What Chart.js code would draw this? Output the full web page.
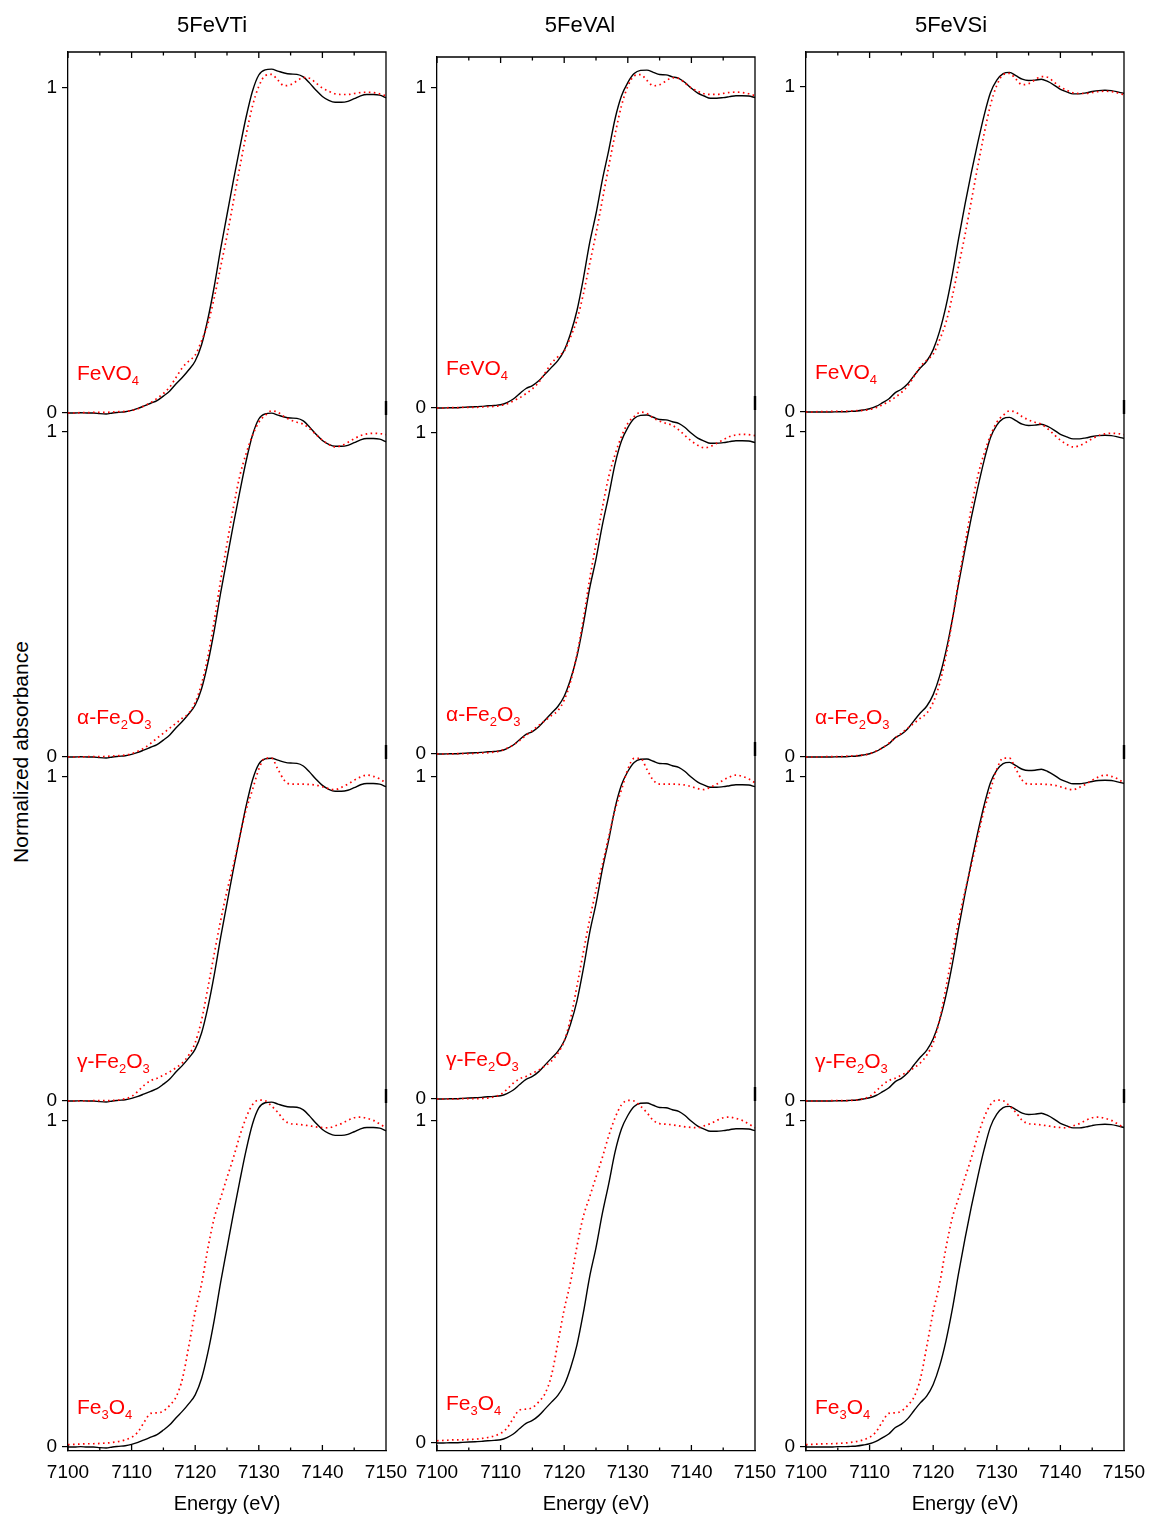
<!DOCTYPE html>
<html>
<head>
<meta charset="utf-8">
<script src="https://cdn.jsdelivr.net/npm/chart.js@4.4.1/dist/chart.umd.min.js"></script>
<style>
  body { margin: 0; background: #fff; width: 1151px; height: 1519px; position: relative; overflow: hidden;
         font-family: "Liberation Sans", Arial, sans-serif; }
  canvas { position: absolute; }
  .title { position: absolute; width: 200px; text-align: center; font-size: 22px; line-height: 22px; color: #000; }
  .ref { position: absolute; color: #ff0000; font-size: 21px; line-height: 21px; white-space: nowrap; }
  .ref sub { font-size: 13px; vertical-align: baseline; position: relative; top: 5px; }
  #ylab { position: absolute; left: 20px; top: 752px; font-size: 21px; line-height: 21px; white-space: nowrap;
          transform: translate(-50%, -50%) rotate(-90deg); }
</style>
</head>
<body>
<div id="ylab">Normalized absorbance</div>
<script>
// energy grid (eV)
const energy = [7100, 7101, 7102, 7103, 7104, 7105, 7106, 7107, 7108, 7109,
                7110, 7111, 7112, 7113, 7114, 7115, 7116, 7117, 7118, 7119,
                7120, 7121, 7122, 7123, 7124, 7125, 7126, 7127, 7128, 7129,
                7130, 7131, 7132, 7133, 7134, 7135, 7136, 7137, 7138, 7139,
                7140, 7141, 7142, 7143, 7144, 7145, 7146, 7147, 7148, 7149,
                7150];

// samples (black, solid)
const ti = [0.000, 0.000, 0.001, 0.000, 0.000, -0.002, -0.003, 0.000, 0.002, 0.004,
            0.008, 0.014, 0.022, 0.030, 0.038, 0.052, 0.068, 0.090, 0.110, 0.133,
            0.160, 0.210, 0.290, 0.390, 0.505, 0.610, 0.715, 0.815, 0.910, 0.990,
            1.040, 1.056, 1.058, 1.052, 1.046, 1.043, 1.042, 1.034, 1.015, 0.993,
            0.974, 0.962, 0.956, 0.956, 0.959, 0.967, 0.976, 0.980, 0.980, 0.978,
            0.970];
const al = [0.000, 0.000, 0.001, 0.001, 0.002, 0.003, 0.004, 0.005, 0.007, 0.008,
            0.010, 0.017, 0.028, 0.045, 0.061, 0.070, 0.085, 0.106, 0.127, 0.148,
            0.180, 0.233, 0.304, 0.403, 0.516, 0.607, 0.713, 0.805, 0.904, 0.975,
            1.017, 1.045, 1.055, 1.056, 1.049, 1.042, 1.041, 1.035, 1.030, 1.017,
            0.999, 0.984, 0.975, 0.968, 0.968, 0.970, 0.973, 0.976, 0.976, 0.975,
            0.970];
const si = [0.000, 0.000, 0.000, 0.000, 0.000, 0.001, 0.001, 0.002, 0.003, 0.006,
            0.010, 0.017, 0.028, 0.040, 0.059, 0.070, 0.087, 0.112, 0.136, 0.157,
            0.192, 0.248, 0.325, 0.422, 0.534, 0.639, 0.737, 0.828, 0.912, 0.982,
            1.021, 1.041, 1.045, 1.035, 1.024, 1.020, 1.021, 1.024, 1.017, 1.006,
            0.993, 0.985, 0.979, 0.979, 0.982, 0.986, 0.989, 0.990, 0.989, 0.985,
            0.980];

// references (red, dotted)
const feVO4 = [0.000, 0.000, 0.001, 0.001, 0.002, 0.002, 0.002, 0.003, 0.004, 0.005,
               0.008, 0.013, 0.022, 0.032, 0.045, 0.060, 0.080, 0.110, 0.140, 0.160,
               0.178, 0.222, 0.275, 0.355, 0.450, 0.545, 0.650, 0.755, 0.855, 0.944,
               1.005, 1.038, 1.042, 1.024, 1.007, 1.010, 1.022, 1.032, 1.030, 1.015,
               1.000, 0.990, 0.982, 0.980, 0.980, 0.983, 0.986, 0.987, 0.986, 0.982,
               0.976];
const alphaFe2O3 = [0.000, 0.000, 0.000, 0.001, 0.001, 0.001, 0.002, 0.003, 0.004, 0.006,
                    0.010, 0.018, 0.028, 0.042, 0.058, 0.073, 0.089, 0.104, 0.120, 0.135,
                    0.168, 0.225, 0.310, 0.420, 0.544, 0.656, 0.767, 0.864, 0.933, 0.989,
                    1.030, 1.051, 1.065, 1.061, 1.047, 1.037, 1.030, 1.024, 1.010, 0.992,
                    0.975, 0.962, 0.954, 0.958, 0.968, 0.979, 0.989, 0.994, 0.996, 0.995,
                    0.992];
const gammaFe2O3 = [0.000, 0.000, 0.000, 0.000, 0.001, 0.001, 0.001, 0.002, 0.003, 0.007,
                    0.014, 0.030, 0.049, 0.063, 0.070, 0.080, 0.090, 0.103, 0.118, 0.142,
                    0.180, 0.250, 0.350, 0.455, 0.557, 0.648, 0.728, 0.815, 0.898, 0.960,
                    1.024, 1.058, 1.058, 1.024, 0.990, 0.978, 0.978, 0.978, 0.977, 0.975,
                    0.970, 0.964, 0.961, 0.968, 0.978, 0.990, 1.000, 1.006, 1.002, 0.994,
                    0.982];
const fe3O4 = [0.007, 0.008, 0.009, 0.010, 0.010, 0.011, 0.012, 0.014, 0.017, 0.022,
               0.030, 0.046, 0.077, 0.103, 0.105, 0.110, 0.128, 0.154, 0.210, 0.310,
               0.415, 0.500, 0.610, 0.703, 0.764, 0.826, 0.887, 0.954, 1.010, 1.050,
               1.064, 1.062, 1.046, 1.026, 1.002, 0.992, 0.990, 0.988, 0.985, 0.982,
               0.980, 0.979, 0.985, 0.992, 1.002, 1.010, 1.012, 1.008, 1.002, 0.991,
               0.979];

const sampleNames = ["5FeVTi", "5FeVAl", "5FeVSi"];
const sampleValues = [ti, al, si];
const refLabels = ["FeVO<sub>4</sub>", "&alpha;-Fe<sub>2</sub>O<sub>3</sub>",
                   "&gamma;-Fe<sub>2</sub>O<sub>3</sub>", "Fe<sub>3</sub>O<sub>4</sub>"];
const refValues = [feVO4, alphaFe2O3, gammaFe2O3, fe3O4];
const xTicks = [7100, 7110, 7120, 7130, 7140, 7150];
const xMinorStep = 5;
const yTicks = [0, 1];

// page geometry of each column frame (px)
const layoutCols = [
  { left: 68,  right: 386,  top: 52, bottom: 1451, one: [88, 432, 777, 1121], zero: [413, 757, 1101, 1447], titleX: 212 },
  { left: 437, right: 755,  top: 57, bottom: 1451, one: [88, 433, 777, 1121], zero: [408, 754, 1099, 1443], titleX: 580 },
  { left: 806, right: 1124, top: 52, bottom: 1451, one: [87, 432, 777, 1121], zero: [412, 757, 1101, 1447], titleX: 951 },
];

const FONT = "'Liberation Sans', Arial, sans-serif";
const PAD = { left: 30, right: 35, top: 26, bottom: 5 };
const Y_AXIS_W = 30;
const X_AXIS_H = 75;

const framePlugin = {
  id: "frame",
  afterDraw(chart) {
    const { ctx, chartArea: a } = chart;
    const xs = chart.scales.x;
    ctx.save();
    ctx.strokeStyle = "#000";
    ctx.lineWidth = 1.3;
    ctx.beginPath();
    ctx.moveTo(a.left, a.top);
    ctx.lineTo(a.right, a.top);
    ctx.lineTo(a.right, a.bottom);
    for (let v = xs.min; v <= xs.max; v += xMinorStep) {
      const px = xs.getPixelForValue(v);
      const len = v % 10 === 0 ? 6 : 3.5;
      ctx.moveTo(px, a.top);
      ctx.lineTo(px, a.top + len);
      ctx.moveTo(px, a.bottom);
      ctx.lineTo(px, a.bottom - len);
    }
    ctx.stroke();
    // slightly heavier right edge where the stacked panels meet
    ctx.lineWidth = 2.4;
    ctx.beginPath();
    Object.keys(chart.scales).filter((id) => id !== "y0" && id[0] === "y").forEach((id) => {
      const s = chart.scales[id];
      ctx.moveTo(a.right, s.top - 12);
      ctx.lineTo(a.right, s.top + 2);
    });
    ctx.stroke();
    ctx.restore();
  },
};

function toPoints(vals) {
  return energy.map((e, i) => ({ x: e, y: vals[i] }));
}

layoutCols.forEach((col, c) => {
  const W = PAD.left + Y_AXIS_W + (col.right - col.left) + PAD.right;
  const H = PAD.top + (col.bottom - col.top) + X_AXIS_H + PAD.bottom;
  const canvas = document.createElement("canvas");
  canvas.width = W;
  canvas.height = H;
  canvas.style.left = (col.left - PAD.left - Y_AXIS_W) + "px";
  canvas.style.top = (col.top - PAD.top) + "px";
  document.body.appendChild(canvas);

  const bounds = [col.top, col.zero[0], col.zero[1], col.zero[2], col.bottom];
  const scales = {
    x: {
      type: "linear", position: "bottom", min: 7100, max: 7150,
      afterBuildTicks: (s) => { s.ticks = xTicks.map((v) => ({ value: v })); },
      afterFit: (s) => { s.height = X_AXIS_H; },
      grid: { drawOnChartArea: false, drawTicks: false },
      border: { color: "#000", width: 1.3 },
      ticks: { color: "#000", font: { family: FONT, size: 19 }, padding: 10, maxRotation: 0,
               autoSkip: false, callback: (v) => String(v) },
      title: { display: true, text: "Energy (eV)", color: "#000", font: { family: FONT, size: 20 },
               padding: { top: 0, bottom: 10 } },
    },
  };
  const datasets = [];
  refValues.forEach((ref, k) => {
    const unit = col.zero[k] - col.one[k];
    const upper = bounds[k], lower = bounds[k + 1];
    scales["y" + k] = {
      type: "linear", position: "left", stack: "panels", stackWeight: lower - upper,
      weight: 10 - k,
      min: -(lower - col.zero[k]) / unit, max: (col.zero[k] - upper) / unit,
      afterBuildTicks: (s) => { s.ticks = yTicks.map((v) => ({ value: v })); },
      afterFit: (s) => { s.width = Y_AXIS_W; },
      grid: { drawOnChartArea: false, tickLength: 6, color: "#000", lineWidth: 1.2 },
      border: { color: "#000", width: 1.3 },
      ticks: { color: "#000", font: { family: FONT, size: 19 }, padding: 5, callback: (v) => String(v) },
    };
    datasets.push({
      data: toPoints(ref), yAxisID: "y" + k, borderColor: "#ff0000", borderWidth: 1.7,
      borderDash: [1.6, 3.4], pointRadius: 0, cubicInterpolationMode: "monotone", clip: false,
    });
    datasets.push({
      data: toPoints(sampleValues[c]), yAxisID: "y" + k, borderColor: "#000", borderWidth: 1.4,
      pointRadius: 0, cubicInterpolationMode: "monotone", clip: false,
    });
  });

  new Chart(canvas.getContext("2d"), {
    type: "line",
    data: { datasets },
    options: {
      responsive: false, animation: false, events: [],
      layout: { padding: PAD },
      parsing: false,
      plugins: { legend: { display: false }, tooltip: { enabled: false } },
      scales,
    },
    plugins: [framePlugin],
  });

  const t = document.createElement("div");
  t.className = "title";
  t.style.left = (col.titleX - 100) + "px";
  t.style.top = "14px";
  t.textContent = sampleNames[c];
  document.body.appendChild(t);

  refLabels.forEach((lab, k) => {
    const d = document.createElement("div");
    d.className = "ref";
    d.style.left = (col.left + 9) + "px";
    d.style.top = (col.zero[k] - 40 - 11) + "px";
    d.innerHTML = lab;
    document.body.appendChild(d);
  });
});
</script>
</body>
</html>
